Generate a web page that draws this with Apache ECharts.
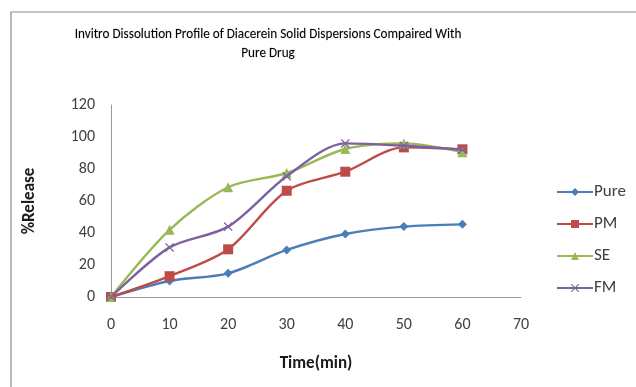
<!DOCTYPE html>
<html><head><meta charset="utf-8">
<script src="https://cdn.jsdelivr.net/npm/echarts@6/dist/echarts.min.js"></script>
<style>html,body{margin:0;padding:0;background:#fff}#c{width:636px;height:387px}</style>
</head><body><div id="c"></div>
<script>
const times = [0, 10, 20, 30, 40, 50, 60];
const pure = [0, 10, 14.8, 29.4, 39.4, 44, 45.4];
const pm = [0, 13, 29.8, 66.4, 78.3, 93.5, 92.3];
const se = [0, 42, 68.6, 77.5, 92.5, 96, 90.5];
const fm = [0, 31, 44, 75.5, 96, 94.5, 92];
const seriesNames = ['Pure', 'PM', 'SE', 'FM'];
const colors = ['#4a7ebb', '#be4b48', '#98b954', '#7d60a0'];

const xPath = 'path://M1,0L5,4L9,0L10,1L6,5L10,9L9,10L5,6L1,10L0,9L4,5L0,1Z';
const symbols = ['diamond', 'rect', 'triangle', xPath];
const sizes = [9, 10, 10, 9];
const vals = [pure, pm, se, fm];
const font = 'Carlito, "Liberation Sans", "Noto Sans", sans-serif';

const chart = echarts.init(document.getElementById('c'), null, {renderer: 'canvas'});
chart.setOption({
  animation: false,
  color: colors,
  graphic: [{
    type: 'rect', shape: {x: 11, y: 12, width: 640, height: 400},
    style: {fill: 'none', stroke: '#8c8c8c', lineWidth: 1.2}, silent: true, z: -1
  }],
  title: {
    text: 'Invitro Dissolution Profile of Diacerein Solid Dispersions Compaired With\nPure Drug',
    left: 263, top: 20, textAlign: 'center',
    textStyle: {fontFamily: font, fontSize: 13.2, fontWeight: 500, color: '#000', lineHeight: 19,
      textBorderColor: 'rgba(0,0,0,0.35)', textBorderWidth: 0.3}
  },
  legend: {
    orient: 'vertical', left: 556, top: 183, itemGap: 14, padding: 0,
    itemWidth: 36, itemHeight: 10,
    textStyle: {fontFamily: font, fontSize: 17, lineHeight: 18, color: '#404040', padding: [0, 0, 0, -4]},
    data: seriesNames
  },
  grid: {left: 111, right: 115, top: 105, bottom: 90},
  xAxis: {
    type: 'value', min: 0, max: 70, interval: 10,
    name: 'Time(min)', nameLocation: 'middle', nameGap: 58,
    nameTextStyle: {fontFamily: font, fontSize: 17, fontWeight: 'bold', color: '#1a1a1a'},
    axisLine: {onZero: false, lineStyle: {color: '#9a9a9a', width: 1}},
    axisTick: {show: false},
    splitLine: {show: false},
    axisLabel: {fontFamily: font, fontSize: 16, color: '#404040', margin: 20}
  },
  yAxis: {
    type: 'value', min: 0, max: 120, interval: 20,
    name: '%Release', nameLocation: 'middle', nameGap: 73, nameRotate: 90,
    nameTextStyle: {fontFamily: font, fontSize: 17, fontWeight: 'bold', color: '#1a1a1a'},
    axisLine: {show: true, lineStyle: {color: '#9a9a9a', width: 1}},
    axisTick: {show: false},
    splitLine: {show: false},
    axisLabel: {fontFamily: font, fontSize: 16, color: '#404040', margin: 16}
  },
  series: seriesNames.map((n, i) => ({
    name: n, type: 'line', smooth: 0.3,
    data: times.map((t, j) => [t, vals[i][j]]),
    symbol: symbols[i], symbolSize: sizes[i], showSymbol: true,
    lineStyle: {width: 2.4, color: colors[i]},
    itemStyle: {color: colors[i]},
    z: 2 + i
  }))
});
</script></body></html>
